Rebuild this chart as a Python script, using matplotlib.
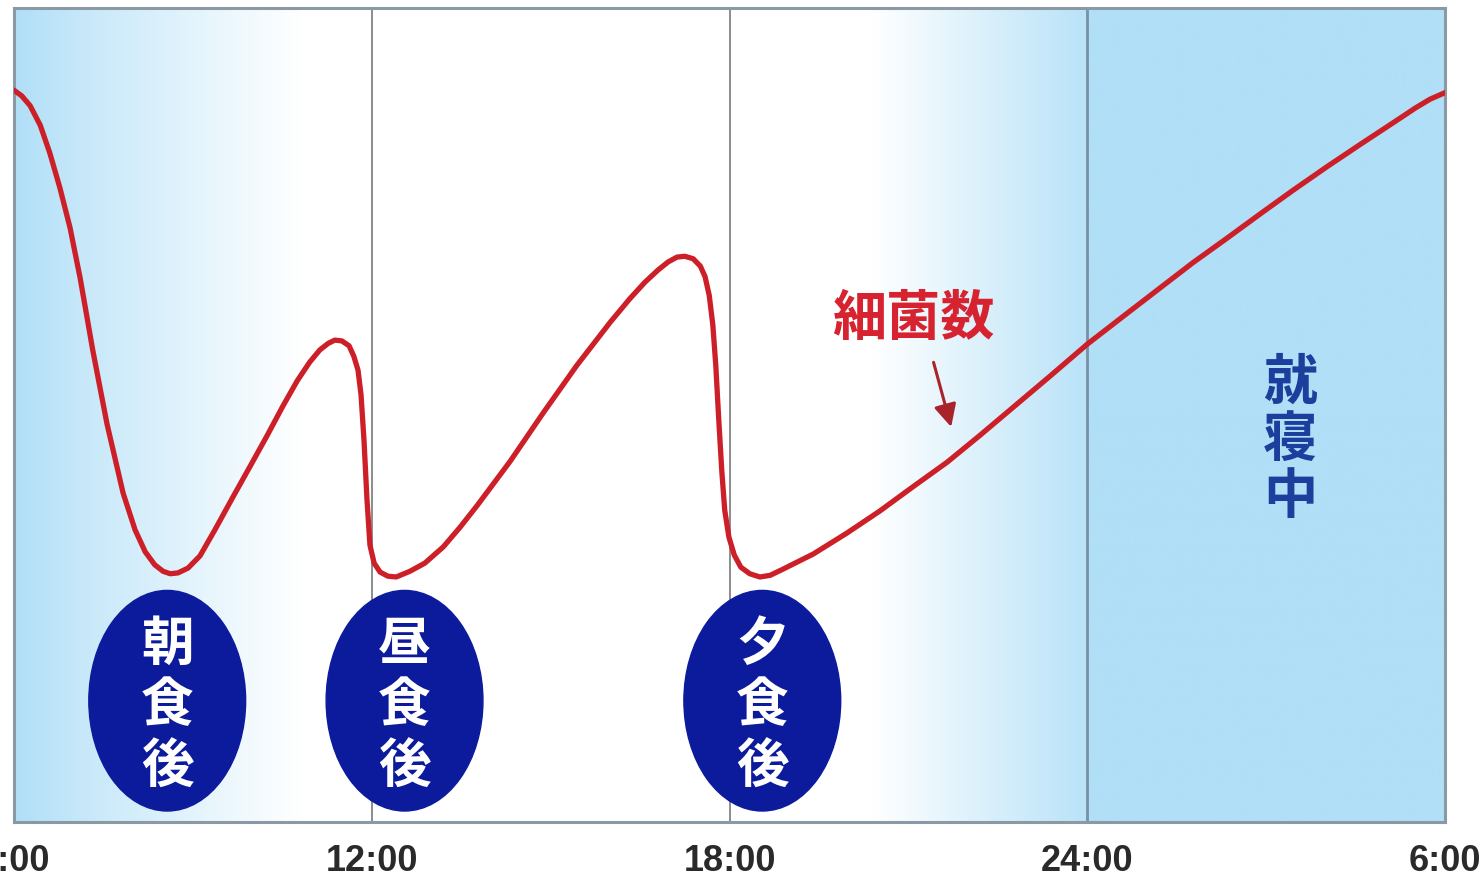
import numpy as np
import matplotlib.pyplot as plt
from matplotlib.patches import Ellipse

plt.rcParams['font.family'] = ['Noto Sans CJK JP', 'DejaVu Sans']

# bacteria count over one day (hour of day, relative level 0-100)
hours = [6.00, 6.13, 6.27, 6.44, 6.60, 6.77, 6.94, 7.11, 7.32, 7.56,
         7.83, 8.03, 8.20, 8.36, 8.50, 8.62, 8.75, 8.92, 9.12, 9.37,
         9.67, 9.96, 10.24, 10.51, 10.75, 10.96, 11.13, 11.27, 11.38, 11.50,
         11.62, 11.70, 11.77, 11.82, 11.87, 11.92, 11.97, 12.04, 12.14, 12.27,
         12.41, 12.64, 12.89, 13.20, 13.48, 13.77, 14.32, 14.87, 15.44, 16.00,
         16.33, 16.58, 16.80, 16.97, 17.12, 17.25, 17.39, 17.51, 17.59, 17.66,
         17.72, 17.77, 17.82, 17.87, 17.92, 17.99, 18.08, 18.19, 18.34, 18.51,
         18.68, 18.88, 19.18, 19.40, 19.97, 20.52, 21.08, 21.65, 22.20, 22.75,
         23.38, 24.00, 24.67, 25.22, 25.77, 26.34, 26.90, 27.45, 28.02, 28.57,
         29.13, 29.50, 29.75, 30.00]
level = [89.9, 89.2, 88.0, 85.6, 82.2, 77.9, 73.0, 66.8, 58.0, 48.9,
         40.4, 35.9, 33.2, 31.6, 30.8, 30.5, 30.6, 31.2, 32.7, 35.9,
         39.9, 43.7, 47.4, 51.1, 54.2, 56.5, 58.0, 58.8, 59.2, 59.1,
         58.5, 57.2, 55.5, 52.5, 46.9, 39.6, 34.0, 31.8, 30.7, 30.2,
         30.1, 30.8, 31.8, 33.8, 36.2, 38.9, 44.3, 50.2, 56.1, 61.4,
         64.3, 66.3, 67.8, 68.8, 69.4, 69.5, 69.2, 68.3, 67.0, 64.7,
         61.1, 56.1, 49.4, 43.2, 38.3, 35.0, 32.8, 31.3, 30.5, 30.1,
         30.3, 31.0, 32.1, 32.9, 35.5, 38.2, 41.2, 44.2, 47.5, 50.9,
         54.8, 58.7, 62.5, 65.6, 68.7, 71.7, 74.7, 77.6, 80.5, 83.2,
         85.9, 87.7, 88.8, 89.6]

meal_hours = [8.57, 12.55, 18.55]
meal_labels = ['朝食後', '昼食後', '夕食後']
tick_hours = [6, 12, 18, 24, 30]
tick_labels = ['6:00', '12:00', '18:00', '24:00', '6:00']
sleep_start = 24
sleep_label = '就寝中'
curve_label = '細菌数'

fig = plt.figure(figsize=(14.79, 8.81), dpi=100)
ax = fig.add_axes([14 / 1479, 59 / 881, 1431 / 1479, 814 / 881])
ax.set_xlim(6, 30)
ax.set_ylim(0, 100)

# light blue shading: morning fade-out, evening fade-in, solid while asleep
cols = np.linspace(6, 30, 1500)
w = np.interp(cols, [6, 7.2, 10.8, 20.4, 23.99, 24.0, 30],
              [1.0, 0.7, 0.0, 0.0, 0.88, 1.0, 1.0])
blue = np.array([176, 223, 247]) / 255
row = 1 - w[:, None] * (1 - blue)
ax.imshow(row[None, :, :], extent=(6, 30, 0, 100), aspect='auto',
          interpolation='bilinear', zorder=0)

ax.axvline(12, color='#8c8c8c', lw=1.4, zorder=1)
ax.axvline(18, color='#8c8c8c', lw=1.4, zorder=1)
ax.axvline(sleep_start, color='#7a90a3', lw=2.0, zorder=1)

ax.plot(hours, level, color='#cc1f28', lw=3.8,
        solid_joinstyle='round', solid_capstyle='round', zorder=3)

for h, lab in zip(meal_hours, meal_labels):
    ax.add_patch(Ellipse((h, 14.9), width=2.63, height=27.1,
                         color='#0b1b9c', zorder=4))
    ax.text(h, 14.3, '\n'.join(lab), ha='center', va='center', color='white',
            fontsize=38, fontweight='bold', linespacing=1.2, zorder=5)

ax.text(27.4, 46.9, '\n'.join(sleep_label), ha='center', va='center',
        color='#1c3f9e', fontsize=39, fontweight='bold', linespacing=1.05,
        zorder=5)

ax.text(21.09, 61.7, curve_label, ha='center', va='center', color='#d7232f',
        fontsize=39, fontweight='bold', zorder=5)
ax.annotate('', xy=(21.73, 48.2), xytext=(21.41, 56.8),
            arrowprops=dict(arrowstyle='-|>', color='#a8242a', lw=2.2,
                            mutation_scale=34), zorder=5)

ax.set_yticks([])
ax.set_xticks(tick_hours)
ax.set_xticklabels(tick_labels, fontsize=26, family='Liberation Sans',
                   fontweight='bold', color='#2a2a2a')
ax.tick_params(axis='x', length=0, pad=16)
for sp in ax.spines.values():
    sp.set_color('#8a99a4')
    sp.set_linewidth(2.2)

fig.savefig('out.png', dpi=100)
